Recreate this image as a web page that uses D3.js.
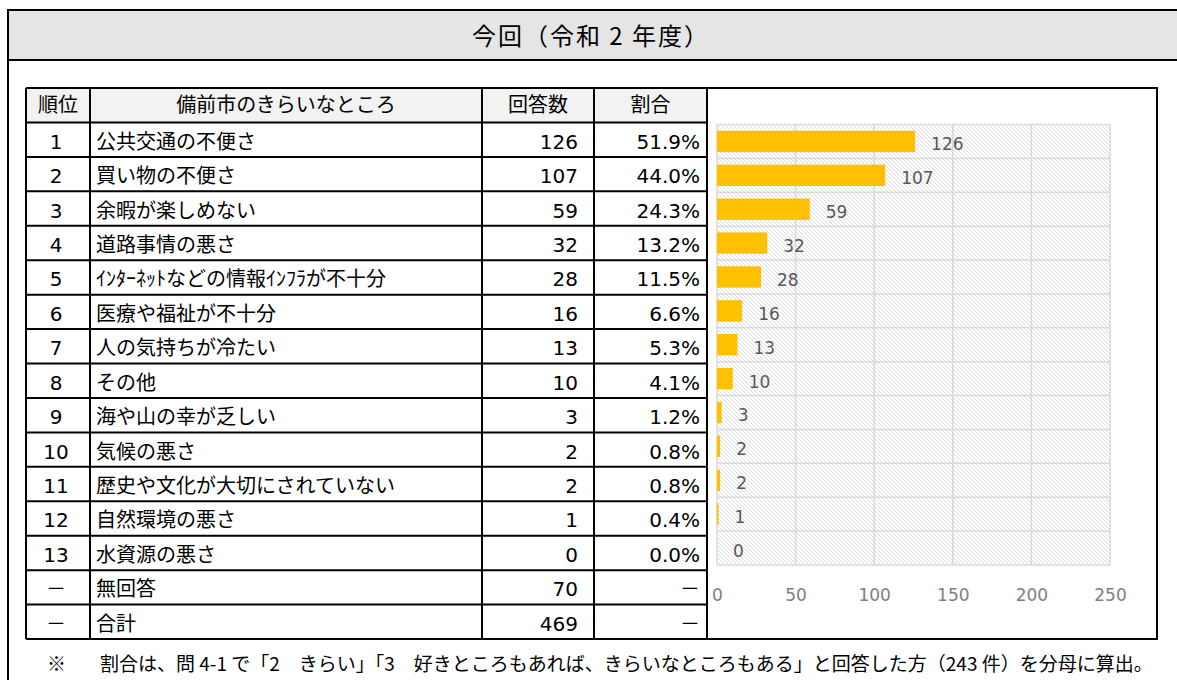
<!DOCTYPE html>
<html>
<head>
<meta charset="utf-8">
<script src="https://cdn.jsdelivr.net/npm/d3@7/dist/d3.min.js"></script>
<style>
    body { margin: 0; background: #fff; }
    svg text { font-family: 'DejaVu Sans', 'Noto Sans CJK JP', sans-serif; }
    .jp { font-family: 'Noto Sans CJK JP', sans-serif; }
</style>
</head>
<body>
<div id="chart"></div>
<script>

var title = '今回（令和 2 年度）';
var headers = ['順位', '備前市のきらいなところ', '回答数', '割合'];

var ranks = ['1', '2', '3', '4', '5', '6', '7', '8', '9', '10', '11', '12', '13', '－', '－'];
var items = [
    '公共交通の不便さ', '買い物の不便さ', '余暇が楽しめない', '道路事情の悪さ',
    'ｲﾝﾀｰﾈｯﾄなどの情報ｲﾝﾌﾗが不十分', '医療や福祉が不十分', '人の気持ちが冷たい', 'その他',
    '海や山の幸が乏しい', '気候の悪さ', '歴史や文化が大切にされていない', '自然環境の悪さ',
    '水資源の悪さ', '無回答', '合計'
];
var counts = [126, 107, 59, 32, 28, 16, 13, 10, 3, 2, 2, 1, 0, 70, 469];
var shares = ['51.9%', '44.0%', '24.3%', '13.2%', '11.5%', '6.6%', '5.3%', '4.1%',
    '1.2%', '0.8%', '0.8%', '0.4%', '0.0%', '－', '－'];

// only the 13 ranked items go into the bar chart
var chartItems = items.slice(0, 13);
var chartValues = counts.slice(0, 13);
var xTicks = [0, 50, 100, 150, 200, 250];

var note = '割合は、問 4-1 で「2　きらい」「3　好きところもあれば、きらいなところもある」と回答した方（243 件）を分母に算出。';


var width = 1177;
var height = 680;

var svg = d3.select('#chart')
    .append('svg')
    .attr('width', width)
    .attr('height', height);

// outer frame + title band
svg.append('rect')
    .attr('x', 8).attr('y', 10)
    .attr('width', 1190).attr('height', 720)
    .style('fill', '#fff')
    .style('stroke', '#000')
    .style('stroke-width', 2);

svg.append('rect')
    .attr('x', 8).attr('y', 10)
    .attr('width', 1190).attr('height', 50)
    .style('fill', '#e5e5e5')
    .style('stroke', '#000')
    .style('stroke-width', 2);

svg.append('text')
    .attr('class', 'jp')
    .attr('x', 591).attr('y', 37)
    .attr('dy', '0.35em')
    .attr('text-anchor', 'middle')
    .style('font-size', '24px')
    .style('letter-spacing', '2px')
    .style('fill', '#000')
    .text(title);


// ---- table ----
var cols = [26, 90, 482, 594, 707];
var tableTop = 88;
var tableBottom = 639;

var rowScale = d3.scaleBand()
    .domain(d3.range(ranks.length + 1))
    .range([tableTop, tableBottom]);

var table = svg.append('g').attr('class', 'table');

table.append('rect')
    .attr('x', cols[0]).attr('y', rowScale(0))
    .attr('width', cols[4] - cols[0]).attr('height', rowScale.bandwidth())
    .style('fill', '#f2f2f2');

table.selectAll('line.h')
    .data(d3.range(ranks.length + 2))
    .enter()
    .append('line')
    .attr('class', 'h')
    .attr('x1', cols[0]).attr('x2', cols[4])
    .attr('y1', d => d > ranks.length ? tableBottom : rowScale(d))
    .attr('y2', d => d > ranks.length ? tableBottom : rowScale(d))
    .style('stroke', '#000')
    .style('stroke-width', 2);

table.selectAll('line.v')
    .data(cols)
    .enter()
    .append('line')
    .attr('class', 'v')
    .attr('x1', d => d).attr('x2', d => d)
    .attr('y1', tableTop).attr('y2', tableBottom)
    .style('stroke', '#000')
    .style('stroke-width', 2);

var headerX = [(cols[0] + cols[1]) / 2, (cols[1] + cols[2]) / 2, (cols[2] + cols[3]) / 2, (cols[3] + cols[4]) / 2];

table.selectAll('text.head')
    .data(headers)
    .enter()
    .append('text')
    .attr('class', 'head jp')
    .attr('x', (d, i) => headerX[i])
    .attr('y', rowScale(0) + rowScale.bandwidth() / 2)
    .attr('dy', '0.35em')
    .attr('text-anchor', 'middle')
    .style('font-size', '20px')
    .text(d => d);

var rows = table.selectAll('g.row')
    .data(ranks.map((r, i) => ({
        rank: r,
        item: items[i],
        count: counts[i],
        share: shares[i],
        index: i
    })))
    .enter()
    .append('g')
    .attr('class', 'row')
    .attr('transform', d => 'translate(0,' + (rowScale(d.index + 1) + rowScale.bandwidth() / 2 + 2) + ')');

rows.append('text')
    .attr('x', headerX[0] - 2)
    .attr('dy', '0.35em')
    .attr('text-anchor', 'middle')
    .style('font-size', '20px')
    .text(d => d.rank);

rows.append('text')
    .attr('class', 'jp')
    .attr('x', cols[1] + 6)
    .attr('dy', '0.35em')
    .style('font-size', '20px')
    .text(d => d.item);

rows.append('text')
    .attr('x', cols[3] - 16)
    .attr('dy', '0.35em')
    .attr('text-anchor', 'end')
    .style('font-size', '20px')
    .text(d => d.count);

rows.append('text')
    .attr('x', cols[4] - 7)
    .attr('dy', '0.35em')
    .attr('text-anchor', 'end')
    .style('font-size', '20px')
    .text(d => d.share);


// ---- bar chart ----
svg.append('rect')
    .attr('x', 707).attr('y', 88)
    .attr('width', 450).attr('height', 551)
    .style('fill', 'none')
    .style('stroke', '#000')
    .style('stroke-width', 2);

var defs = svg.append('defs');
defs.append('pattern')
    .attr('id', 'hatch')
    .attr('patternUnits', 'userSpaceOnUse')
    .attr('width', 4)
    .attr('height', 4)
    .append('path')
    .attr('d', 'M-1,-1 L5,5 M-1,3 L1,5 M3,-1 L5,1')
    .style('stroke', '#dcdcdc')
    .style('stroke-width', 1);

var plot = { left: 717, right: 1110, top: 124.5, bottom: 565 };

var xScale = d3.scaleLinear()
    .domain([0, 250])
    .range([plot.left, plot.right]);

var gridScale = d3.scaleBand()
    .domain(chartItems)
    .range([plot.top, plot.bottom]);

var barScale = d3.scaleBand()
    .domain(chartItems)
    .range([plot.top, plot.bottom])
    .paddingInner(0.37)
    .paddingOuter(0.185);

var chart = svg.append('g').attr('class', 'bars');

chart.append('rect')
    .attr('x', plot.left).attr('y', plot.top)
    .attr('width', plot.right - plot.left).attr('height', plot.bottom - plot.top)
    .style('fill', 'url(#hatch)');

chart.selectAll('line.vgrid')
    .data(xTicks)
    .enter()
    .append('line')
    .attr('class', 'vgrid')
    .attr('x1', d => xScale(d)).attr('x2', d => xScale(d))
    .attr('y1', plot.top).attr('y2', plot.bottom)
    .style('stroke', '#d9d9d9')
    .style('stroke-width', 1.5);

chart.selectAll('line.hgrid')
    .data(chartItems.concat(['_end']))
    .enter()
    .append('line')
    .attr('class', 'hgrid')
    .attr('x1', plot.left).attr('x2', plot.right)
    .attr('y1', d => d == '_end' ? plot.bottom : gridScale(d))
    .attr('y2', d => d == '_end' ? plot.bottom : gridScale(d))
    .style('stroke', '#d9d9d9')
    .style('stroke-width', 1.5);

chart.selectAll('rect.bar')
    .data(chartItems)
    .enter()
    .append('rect')
    .attr('class', 'bar')
    .attr('x', xScale(0))
    .attr('y', d => barScale(d))
    .attr('width', (d, i) => xScale(chartValues[i]) - xScale(0))
    .attr('height', barScale.bandwidth())
    .style('fill', '#ffc000');

chart.selectAll('text.label')
    .data(chartItems)
    .enter()
    .append('text')
    .attr('class', 'label')
    .attr('x', (d, i) => xScale(chartValues[i]) + 16)
    .attr('y', d => barScale(d) + barScale.bandwidth() / 2 + 3)
    .attr('dy', '0.35em')
    .style('font-size', '17px')
    .style('fill', '#595959')
    .text((d, i) => chartValues[i]);

var xAxis = chart.append('g')
    .attr('transform', 'translate(0,' + plot.bottom + ')')
    .call(d3.axisBottom(xScale).tickValues(xTicks).tickSize(0).tickPadding(24));

xAxis.select('.domain').remove();
xAxis.selectAll('text')
    .style('font-size', '17px')
    .style('font-family', "'DejaVu Sans', sans-serif")
    .style('fill', '#808080');


// ---- footnote ----
svg.append('text')
    .attr('class', 'jp')
    .attr('x', 47).attr('y', 664)
    .attr('dy', '0.35em')
    .style('font-size', '19px')
    .text('※');

svg.append('text')
    .attr('class', 'jp')
    .attr('x', 100).attr('y', 664)
    .attr('dy', '0.35em')
    .style('font-size', '19px')
    .text(note);

</script>
</body>
</html>
